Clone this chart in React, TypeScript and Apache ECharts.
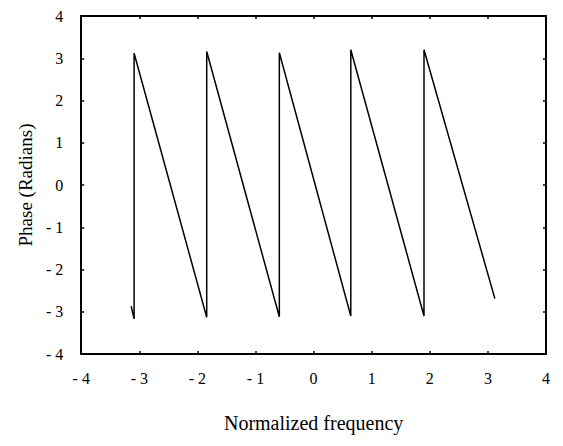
import React, { useEffect, useRef } from "react";
import * as echarts from "echarts";

const freq = [-3.14, -3.09, -3.09, -1.84, -1.84, -0.59, -0.59, 0.64, 0.64, 1.9, 1.9, 3.12];
const phase = [-2.87, -3.17, 3.12, -3.13, 3.16, -3.12, 3.13, -3.1, 3.2, -3.1, 3.2, -2.69];

const FONT = "'Liberation Serif', 'Times New Roman', serif";

export default function App() {
  const ref = useRef<HTMLDivElement>(null);
  useEffect(() => {
    if (!ref.current) return;
    const chart = echarts.init(ref.current, undefined, { renderer: "svg" });
    const axisLine = { show: true, onZero: false, lineStyle: { color: "#000", width: 2 } };
    const axisTick = { show: true, inside: true, length: 3, lineStyle: { color: "#000", width: 1.5 } };
    const data = freq.map((f, i) => [f, phase[i]]);
    const fmt = (v: number) => (v < 0 ? "- " + Math.abs(v) : String(v));
    chart.setOption({
      animation: false,
      backgroundColor: "#fff",
      grid: { left: 69, right: 9, top: 2, bottom: 77, containLabel: false },
      xAxis: [
        {
          type: "value",
          min: -4,
          max: 4,
          interval: 1,
          position: "bottom",
          axisLine,
          axisTick,
          splitLine: { show: false },
          axisLabel: { color: "#000", fontFamily: FONT, fontSize: 16, margin: 16, formatter: fmt },
          name: "Normalized frequency",
          nameLocation: "middle",
          nameGap: 59,
          nameTextStyle: { color: "#000", fontFamily: FONT, fontSize: 20 },
        },
        {
          type: "value",
          min: -4,
          max: 4,
          interval: 1,
          position: "top",
          axisLine,
          axisTick,
          splitLine: { show: false },
          axisLabel: { show: false },
        },
      ],
      yAxis: [
        {
          type: "value",
          min: -4,
          max: 4,
          interval: 1,
          position: "left",
          axisLine,
          axisTick,
          splitLine: { show: false },
          axisLabel: { color: "#000", fontFamily: FONT, fontSize: 16, margin: 18, formatter: fmt },
          name: "Phase (Radians)",
          nameLocation: "middle",
          nameGap: 46,
          nameTextStyle: { color: "#000", fontFamily: FONT, fontSize: 19 },
        },
        {
          type: "value",
          min: -4,
          max: 4,
          interval: 1,
          position: "right",
          axisLine,
          axisTick,
          splitLine: { show: false },
          axisLabel: { show: false },
        },
      ],
      series: [
        {
          type: "line",
          data,
          showSymbol: false,
          symbol: "none",
          lineStyle: { color: "#000", width: 1.5 },
        },
      ],
    });
    return () => chart.dispose();
  }, []);
  return <div ref={ref} style={{ width: 547, height: 430 }} />;
}
